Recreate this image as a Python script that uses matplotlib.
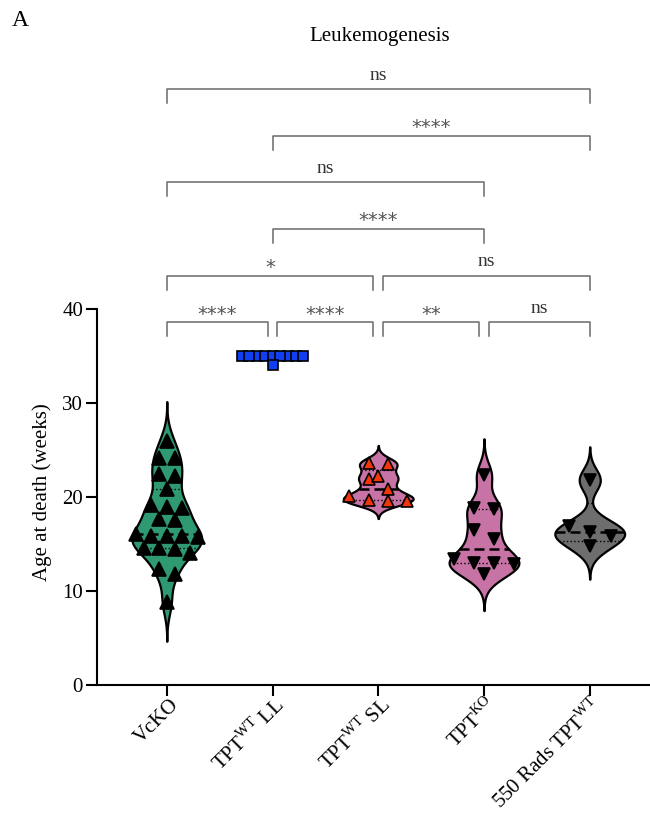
import matplotlib
matplotlib.use("Agg")
import matplotlib.pyplot as plt
import matplotlib.transforms as mtrans
import numpy as np

plt.rcParams['font.family'] = ['Liberation Serif', 'DejaVu Serif']
plt.rcParams['mathtext.fontset'] = 'custom'
plt.rcParams['mathtext.rm'] = 'Liberation Serif'

# data (weeks)
groups = ['VcKO', 'TPT$^{\\mathrm{WT}}$ LL', 'TPT$^{\\mathrm{WT}}$ SL',
          'TPT$^{\\mathrm{KO}}$', '550 Rads TPT$^{\\mathrm{WT}}$']
vckO = [26.0, 24.1, 24.1, 22.2, 22.4, 20.9, 18.9, 19.2, 18.8, 17.7, 17.6,
        15.9, 16.1, 15.7, 15.8, 15.9, 14.6, 14.5, 14.6, 14.0, 12.3, 11.8, 8.8]
tpt_wt_ll = [35, 35, 35, 35, 35, 35, 35, 35, 35, 34]
tpt_wt_sl = [23.6, 23.5, 21.9, 22.2, 20.9, 20.1, 19.6, 19.7, 19.6]
tpt_ko = [22.3, 18.7, 18.8, 16.5, 15.5, 13.4, 13.0, 13.0, 12.9, 11.8]
rads550 = [21.8, 16.9, 16.3, 15.9, 14.8]
values = [vckO, tpt_wt_ll, tpt_wt_sl, tpt_ko, rads550]

# comparisons: (group a, group b, label, bracket level)
comparisons = [(0, 1, '****', 0), (1, 2, '****', 0), (2, 3, '**', 0), (3, 4, 'ns', 0),
               (0, 2, '*', 1), (2, 4, 'ns', 1),
               (1, 3, '****', 2), (0, 3, 'ns', 3), (1, 4, '****', 4), (0, 4, 'ns', 5)]

# styles
violin_colors = ['#2f9a72', None, '#c873a5', '#c873a5', '#6e6e6e']
markers = ['^', 's', '^', 'v', 'v']
marker_fc = ['black', '#0f3ff0', '#f2360c', 'black', 'black']
marker_ms = [10, 6.5, 8.5, 9, 9]
swarm_px = [15.5, 7.7, 19.5, 20.3, 21.0]
row_tol = [1.05, 0.6, 1.05, 1.05, 1.05]

XPX = 105.8  # pixels per category
HALF_W = 0.33


def kde(v, grid):
    v = np.asarray(v, float)
    bw = 0.6 * v.std(ddof=1) * len(v) ** (-0.2)
    d = np.exp(-0.5 * ((grid[:, None] - v[None, :]) / bw) ** 2).sum(axis=1)
    return d, bw


def swarm(v, step, tol):
    v = np.asarray(v, float)
    idx = np.argsort(v)
    rows, cur = [], [idx[0]]
    for k in idx[1:]:
        if v[k] - v[cur[0]] <= tol:
            cur.append(k)
        else:
            rows.append(cur)
            cur = [k]
    rows.append(cur)
    off = np.zeros(len(v))
    for r in rows:
        r = sorted(r, key=lambda k: -v[k])
        for n, k in enumerate(r):
            off[k] = (n - (len(r) - 1) / 2) * step
    return off


fig = plt.figure(figsize=(6.5, 8.14), dpi=100)
ax = fig.add_axes([97 / 650, 1 - 685 / 814, 1 - 97 / 650, (685 - 309) / 814])

for i, v in enumerate(values):
    if violin_colors[i] is not None:
        d0, bw = kde(v, np.array([0.0]))
        grid = np.linspace(min(v) - 3 * bw, max(v) + 3 * bw, 400)
        d, bw = kde(v, grid)
        half = HALF_W * d / d.max()
        ax.fill_betweenx(grid, i - half, i + half, facecolor=violin_colors[i],
                         edgecolor='black', linewidth=1.6, zorder=2)
        q1, med, q3 = np.percentile(v, [25, 50, 75], method='weibull')
        for q, ls, lw in [(q1, ':', 1.0), (q3, ':', 1.0), (med, (0, (4, 2)), 1.8)]:
            w = np.interp(q, grid, half)
            ax.plot([i - w, i + w], [q, q], ls=ls, lw=lw, color='black', zorder=2.5)
    off = swarm(v, swarm_px[i] / XPX, row_tol[i])
    ax.plot(i + off, v, ls='none', marker=markers[i], ms=marker_ms[i],
            mfc=marker_fc[i], mec='black', mew=1.2, zorder=3)

# significance brackets
BASE, STEP, TIP, GAP = 38.6, 4.96, 1.5, 0.047
for a, b, lab, lev in comparisons:
    same = [c for c in comparisons if c[3] == lev and c[:2] != (a, b)]
    xa = a + (GAP if any(c[1] == a for c in same) else 0)
    xb = b - (GAP if any(c[0] == b for c in same) else 0)
    y = BASE + lev * STEP
    ax.plot([xa, xa, xb, xb], [y - TIP, y, y, y - TIP], color='#6a6a6a', lw=1.1,
            clip_on=False)
    if lab == 'ns':
        ax.text((xa + xb) / 2, y + 0.55, lab, ha='center', va='bottom', fontsize=14,
                color='#333333')
    else:
        ax.text((xa + xb) / 2, y - 0.15, lab, ha='center', va='bottom', fontsize=14,
                color='#555555', family=['DejaVu Sans'])

ax.set_xlim(-0.66, 4.57)
ax.set_ylim(0, 40)
ax.set_yticks([0, 10, 20, 30, 40])
ax.tick_params(axis='y', labelsize=15, length=8, width=1.5, pad=2)
ax.tick_params(axis='x', length=8, width=1.5)
ax.set_xticks(range(len(groups)))
ax.set_xticklabels([])
# rotated category labels, anchored just right of each tick
shift = mtrans.ScaledTranslation(9 / 100, -17 / 100, fig.dpi_scale_trans)
for i, g in enumerate(groups):
    ax.text(i, 0, g, transform=ax.get_xaxis_transform() + shift, rotation=45,
            ha='right', va='center', rotation_mode='anchor', fontsize=15)
for s in ['top', 'right']:
    ax.spines[s].set_visible(False)
for s in ['left', 'bottom']:
    ax.spines[s].set_linewidth(1.5)

fig.text(42 / 650, 1 - 492 / 814, 'Age at death (weeks)', rotation=90,
         ha='center', va='center', fontsize=15)
fig.text(379.5 / 650, 1 - 37 / 814, 'Leukemogenesis', ha='center', va='center',
         fontsize=15)
fig.text(12 / 650, 1 - 20 / 814, 'A', ha='left', va='center', fontsize=17)

fig.savefig('out.png', dpi=100)
